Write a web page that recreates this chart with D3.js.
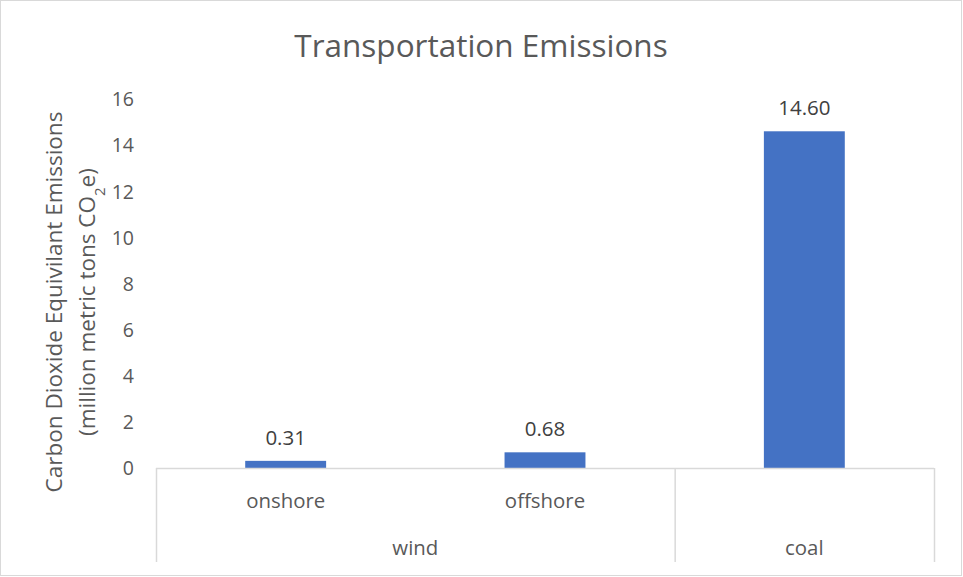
<!DOCTYPE html>
<html>
<head>
<meta charset="utf-8">
<script src="https://cdn.jsdelivr.net/npm/d3@7/dist/d3.min.js"></script>
<style>
  html, body { margin: 0; padding: 0; background: #fff; }
  svg { display: block; font-family: "Open Sans", "Noto Sans", sans-serif; }
</style>
</head>
<body>
<svg id="chart" width="963" height="577"></svg>
<script>
// Chart data
const categories = ["onshore", "offshore", "coal"];
const groups = ["wind", "wind", "coal"];
const values = [0.31, 0.68, 14.60];
const yTicks = [0, 2, 4, 6, 8, 10, 12, 14, 16];

const W = 963, H = 577;
const margin = { left: 156, right: 29, top: 99, bottom: 109 };
const svg = d3.select("#chart");

// Outer chart frame
svg.append("rect")
  .attr("x", 0.5).attr("y", 0.5)
  .attr("width", W - 2).attr("height", H - 2)
  .attr("fill", "#fff").attr("stroke", "#d9d9d9");

const x = d3.scaleBand()
  .domain(categories)
  .range([margin.left, W - margin.right])
  .paddingInner(0.688).paddingOuter(0.344);

const y = d3.scaleLinear()
  .domain([0, 16])
  .range([H - margin.bottom, margin.top]);

// Title
svg.append("text")
  .attr("x", 481).attr("y", 57)
  .attr("text-anchor", "middle")
  .attr("fill", "#595959")
  .style("font-size", "31.5px")
  .text("Transportation Emissions");

// Value axis labels (no line, no gridlines)
const yAxis = d3.axisLeft(y).tickValues(yTicks).tickSize(0).tickPadding(0);
const gy = svg.append("g")
  .attr("transform", `translate(${margin.left - 22},0)`)
  .call(yAxis);
gy.select(".domain").remove();
gy.selectAll("text")
  .attr("fill", "#595959")
  .style("font-size", "19.5px")
  .style("font-family", "'Open Sans', sans-serif")
  .attr("dy", "0.35em");

// Axis title, two rotated lines
const yt = svg.append("text")
  .attr("transform", "translate(62,302) rotate(-90)")
  .attr("text-anchor", "middle")
  .attr("fill", "#595959")
  .style("font-size", "22.5px");
yt.append("tspan").attr("x", 0).attr("dy", 0).text("Carbon Dioxide Equivilant Emissions");
const l2 = yt.append("tspan").attr("x", 0).attr("dy", 33);
l2.append("tspan").text("(million metric tons CO");
l2.append("tspan").attr("baseline-shift", "sub").style("font-size", "15px").text("2");
l2.append("tspan").text("e)");

// Bars
svg.append("g").selectAll("rect")
  .data(values)
  .join("rect")
  .attr("x", (d, i) => x(categories[i]))
  .attr("width", x.bandwidth())
  .attr("y", d => y(d))
  .attr("height", d => y(0) - y(d))
  .attr("fill", "#4472c4");

// Data labels
svg.append("g").selectAll("text")
  .data(values)
  .join("text")
  .attr("x", (d, i) => x(categories[i]) + x.bandwidth() / 2)
  .attr("y", d => y(d) - 16)
  .attr("text-anchor", "middle")
  .attr("fill", "#404040")
  .style("font-size", "20.5px")
  .text(d => d.toFixed(2));

// Category axis: baseline and multi-level dividers
const axisColor = "#d9d9d9";
const step = x.step();
const x0 = margin.left, x1 = W - margin.right;
const yBase = y(0);
const yEnd = 562;
const g = svg.append("g");
g.append("line")
  .attr("x1", x0).attr("x2", x1)
  .attr("y1", yBase + 0.5).attr("y2", yBase + 0.5)
  .attr("stroke", axisColor).attr("stroke-width", 1.5);

// Group spans derived from the group list
const spans = [];
groups.forEach((gName, i) => {
  const last = spans[spans.length - 1];
  if (last && last.name === gName) last.end = i;
  else spans.push({ name: gName, start: i, end: i });
});
const edgeX = i => x0 + i * step;
const dividers = [0, ...spans.map(s => s.end + 1)];
dividers.forEach(i => {
  g.append("line")
    .attr("x1", edgeX(i) + 0.5).attr("x2", edgeX(i) + 0.5)
    .attr("y1", yBase).attr("y2", yEnd)
    .attr("stroke", axisColor).attr("stroke-width", 1.5);
});

// Inner category labels (single-item groups show only the group label)
g.selectAll("text.cat")
  .data(categories)
  .join("text")
  .attr("class", "cat")
  .attr("x", d => x(d) + x.bandwidth() / 2)
  .attr("y", 508)
  .attr("text-anchor", "middle")
  .attr("fill", "#595959")
  .style("font-size", "20.4px")
  .text((d, i) => groups[i] === d ? "" : d);

// Outer group labels
g.selectAll("text.grp")
  .data(spans)
  .join("text")
  .attr("class", "grp")
  .attr("x", s => (edgeX(s.start) + edgeX(s.end + 1)) / 2)
  .attr("y", 555)
  .attr("text-anchor", "middle")
  .attr("fill", "#595959")
  .style("font-size", "20.4px")
  .text(s => s.name);
</script>
</body>
</html>
